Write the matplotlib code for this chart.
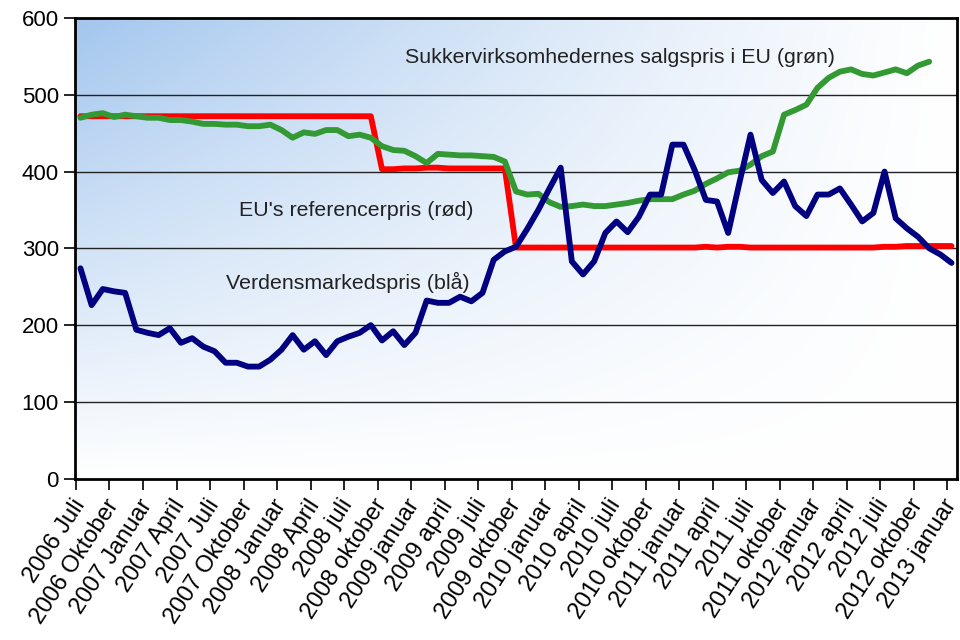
import numpy as np
import matplotlib
matplotlib.use('Agg')
import matplotlib.pyplot as plt
import matplotlib.transforms as mtransforms

plt.rcParams['font.family'] = ['Liberation Sans', 'DejaVu Sans']

# monthly prices, 2006 juli .. 2013 januar
world = [274, 226, 247, 244, 242, 194, 190, 187, 196, 177,
         183, 172, 166, 151, 151, 146, 146, 155, 168, 187,
         168, 179, 161, 179, 185, 190, 200, 180, 192, 174,
         190, 232, 229, 229, 237, 231, 242, 285, 296, 302,
         325, 350, 378, 405, 283, 266, 283, 320, 335, 321,
         341, 370, 370, 435, 435, 402, 363, 361, 320, 385,
         448, 389, 372, 387, 355, 342, 370, 370, 378, 357,
         335, 346, 400, 339, 326, 315, 300, 292, 281]

eu_ref = [472] * 27 + [403, 403, 404, 404, 405, 405, 404, 404, 404, 404, 404, 404] + \
         [301, 301, 301, 301, 301, 301, 301, 301, 301, 301,
          301, 301, 301, 301, 301, 301, 301, 302, 301, 302,
          302, 301, 301, 301, 301, 301, 301, 301, 301, 301,
          301, 301, 301, 302, 302, 303, 303, 303, 303, 303]

sugar = [470, 474, 476, 471, 474, 472, 470, 470, 467, 467,
         465, 462, 462, 461, 461, 459, 459, 461, 454, 444,
         451, 449, 454, 454, 446, 448, 444, 433, 428, 427,
         420, 411, 423, 422, 421, 421, 420, 419, 413, 374,
         370, 371, 360, 354, 355, 357, 355, 355, 357, 359,
         362, 364, 364, 364, 370, 375, 384, 391, 399, 401,
         409, 420, 426, 474, 480, 487, 509, 522, 530, 533,
         527, 525, 529, 533, 528, 538, 543, np.nan, np.nan]

tick_labels = ['2006 Juli', '2006 Oktober', '2007 Januar', '2007 April', '2007 Juli',
               '2007 Oktober', '2008 Januar', '2008 April', '2008 juli', '2008 oktober',
               '2009 januar', '2009 april', '2009 juli', '2009 oktober', '2010 januar',
               '2010 april', '2010 juli', '2010 oktober', '2011 januar', '2011 april',
               '2011 juli', '2011 oktober', '2012 januar', '2012 april', '2012 juli',
               '2012 oktober', '2013 januar']

x = np.arange(len(world))

fig = plt.figure(figsize=(9.6, 6.4), dpi=100)
ax = fig.add_axes([0.078, 0.252, 0.919, 0.72])

# background gradient: blue top-left fading to white
u = np.linspace(0, 1, 300)
v = np.linspace(0, 1, 200)
U, V = np.meshgrid(u, v)
alpha = (1 - U) ** 1.2 * (1 - V) ** 1.0
blue = np.array([163, 198, 238]) / 255.0
img = 1 - alpha[..., None] * (1 - blue)
ax.imshow(img, extent=[0, 1, 0, 1], origin='upper', transform=ax.transAxes,
          aspect='auto', zorder=0)

for yv in range(100, 600, 100):
    ax.axhline(yv, color='#222222', lw=1.0, zorder=1)

ax.plot(x, eu_ref, color='#ff0000', lw=4.2, zorder=3, solid_capstyle='round', solid_joinstyle='round')
ax.plot(x, sugar, color='#339933', lw=4.2, zorder=4, solid_capstyle='round', solid_joinstyle='round')
ax.plot(x, world, color='#000080', lw=4.2, zorder=5, solid_capstyle='round', solid_joinstyle='round')

ax.text(29.1, 548, 'Sukkervirksomhedernes salgspris i EU (grøn)', fontsize=15.4,
        color='#222222', va='center', ha='left', zorder=6)
ax.text(14.2, 349, "EU's referencerpris (rød)", fontsize=15.4,
        color='#222222', va='center', ha='left', zorder=6)
ax.text(13.0, 255, 'Verdensmarkedspris (blå)', fontsize=15.4,
        color='#222222', va='center', ha='left', zorder=6)

ax.set_xlim(-0.5, len(world) - 0.5)
ax.set_ylim(0, 600)
ax.set_yticks(range(0, 601, 100))
ax.set_xticks(np.arange(0, len(world), 3) - 0.4)
ax.set_xticklabels(tick_labels, rotation=57, ha='right', va='top', rotation_mode='anchor')
ax.tick_params(axis='both', direction='out', length=8, width=1.2, labelsize=16, colors='black')
ax.tick_params(axis='x', pad=4, labelsize=17)

shift = mtransforms.ScaledTranslation(-5 / 100, 0, fig.dpi_scale_trans)
for lab in ax.get_xticklabels():
    lab.set_transform(lab.get_transform() + shift)

for s in ax.spines.values():
    s.set_linewidth(2)
    s.set_color('black')
    s.set_zorder(7)

fig.savefig('out.png', dpi=100)
